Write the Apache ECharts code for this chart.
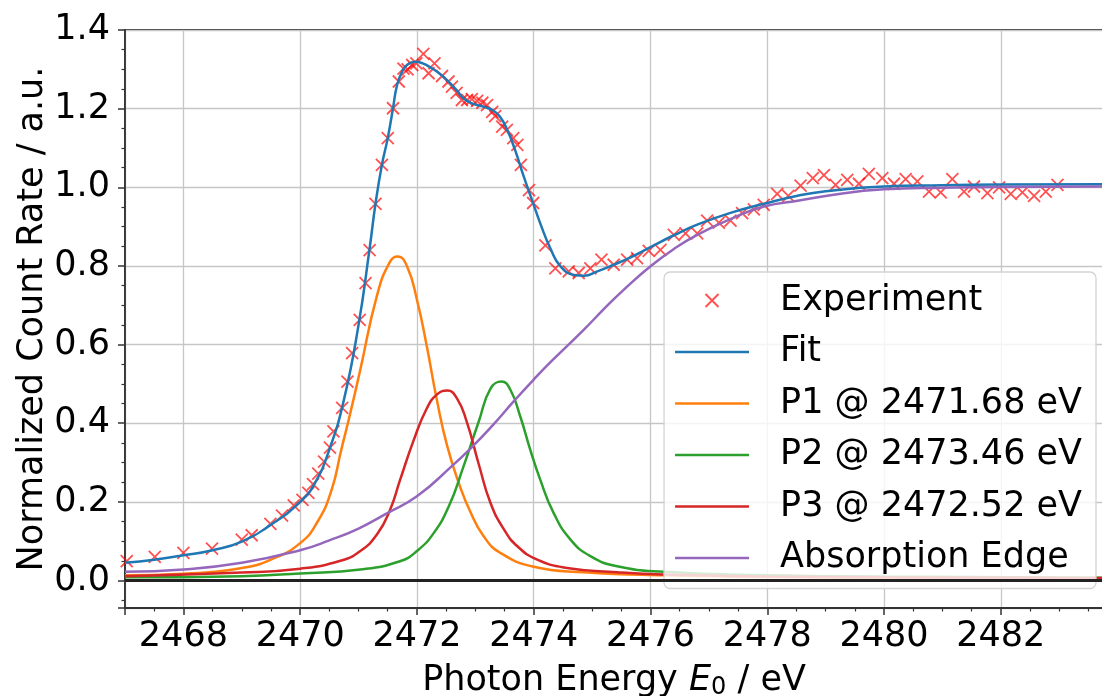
<!DOCTYPE html>
<html>
<head>
<meta charset="utf-8">
<script src="https://cdn.jsdelivr.net/npm/echarts@6/dist/echarts.min.js"></script>
<style>
  html, body { margin: 0; padding: 0; background: #fff; }
  #chart { width: 1102px; height: 696px; }
</style>
</head>
<body>
<div id="chart"></div>
<script>
// Sulfur K-edge XANES: measured count rate and the peak/edge decomposition of the fit.

// Measured points [photon energy eV, normalized count rate]
const experiment = [
  [2467.03, 0.049], [2467.51, 0.060], [2468.00, 0.070], [2468.49, 0.081],
  [2469.00, 0.104], [2469.17, 0.115], [2469.49, 0.144], [2469.69, 0.165],
  [2469.89, 0.191], [2470.04, 0.205], [2470.14, 0.223], [2470.22, 0.245],
  [2470.31, 0.272], [2470.41, 0.302], [2470.51, 0.338], [2470.57, 0.379],
  [2470.72, 0.439], [2470.81, 0.506], [2470.89, 0.578], [2471.02, 0.663],
  [2471.12, 0.756], [2471.19, 0.840], [2471.29, 0.958], [2471.40, 1.057],
  [2471.50, 1.125], [2471.59, 1.201], [2471.69, 1.269], [2471.77, 1.302],
  [2471.84, 1.300], [2471.92, 1.311], [2471.99, 1.315], [2472.11, 1.339],
  [2472.20, 1.290], [2472.30, 1.315], [2472.43, 1.283], [2472.54, 1.269],
  [2472.60, 1.256], [2472.68, 1.240], [2472.77, 1.222], [2472.86, 1.222],
  [2472.94, 1.224], [2473.03, 1.220], [2473.12, 1.215], [2473.20, 1.209],
  [2473.29, 1.192], [2473.34, 1.181], [2473.46, 1.154], [2473.54, 1.146],
  [2473.65, 1.125], [2473.72, 1.108], [2473.78, 1.057], [2473.92, 0.993],
  [2473.99, 0.960], [2474.20, 0.852], [2474.37, 0.794], [2474.60, 0.786],
  [2474.77, 0.782], [2474.97, 0.794], [2475.16, 0.816], [2475.37, 0.803],
  [2475.60, 0.816], [2475.77, 0.820], [2475.97, 0.838], [2476.17, 0.841],
  [2476.40, 0.879], [2476.60, 0.883], [2476.80, 0.883], [2476.97, 0.915],
  [2477.17, 0.910], [2477.37, 0.915], [2477.57, 0.934], [2477.77, 0.944],
  [2477.94, 0.955], [2478.17, 0.983], [2478.36, 0.978], [2478.57, 1.004],
  [2478.78, 1.023], [2478.97, 1.031], [2479.17, 1.006], [2479.37, 1.019],
  [2479.57, 1.009], [2479.74, 1.034], [2479.97, 1.023], [2480.17, 1.009],
  [2480.37, 1.021], [2480.57, 1.015], [2480.77, 0.989], [2480.97, 0.987],
  [2481.17, 1.021], [2481.37, 0.989], [2481.54, 1.002], [2481.77, 0.985],
  [2481.97, 1.000], [2482.17, 0.983], [2482.37, 0.987], [2482.57, 0.978],
  [2482.77, 0.989], [2482.97, 1.006]
];

// Total fit
const fitCurve = [
  [2467.0, 0.045], [2467.5, 0.053], [2468.0, 0.064], [2468.5, 0.077],
  [2469.0, 0.099], [2469.5, 0.142], [2470.0, 0.200], [2470.25, 0.247],
  [2470.5, 0.333], [2470.75, 0.460], [2471.0, 0.650], [2471.19, 0.845],
  [2471.29, 0.958], [2471.4, 1.057], [2471.5, 1.125], [2471.59, 1.201],
  [2471.66, 1.260], [2471.75, 1.295], [2471.83, 1.311], [2471.97, 1.319],
  [2472.1, 1.315], [2472.23, 1.305], [2472.38, 1.290], [2472.51, 1.273],
  [2472.68, 1.247], [2472.80, 1.226], [2472.97, 1.212], [2473.14, 1.205],
  [2473.30, 1.196], [2473.42, 1.180], [2473.54, 1.148], [2473.68, 1.095],
  [2473.83, 1.027], [2473.97, 0.968], [2474.12, 0.905], [2474.29, 0.843],
  [2474.46, 0.799], [2474.69, 0.777], [2474.86, 0.775], [2475.09, 0.786],
  [2475.37, 0.803], [2475.66, 0.822], [2476.0, 0.848], [2476.4, 0.878],
  [2476.8, 0.905], [2477.37, 0.935], [2477.94, 0.958], [2478.5, 0.978],
  [2479.0, 0.990], [2480.0, 1.002], [2481.0, 1.005], [2482.0, 1.007],
  [2483.75, 1.008]
];

// Peak 1 (2471.68 eV)
const peak1 = [
  [2467.0, 0.013], [2468.0, 0.017], [2469.0, 0.032], [2469.5, 0.053],
  [2470.0, 0.095], [2470.3, 0.150], [2470.54, 0.231], [2470.7, 0.330],
  [2470.85, 0.420], [2471.03, 0.536], [2471.32, 0.727], [2471.54, 0.811],
  [2471.67, 0.824], [2471.83, 0.799], [2472.0, 0.714], [2472.17, 0.595],
  [2472.34, 0.460], [2472.52, 0.341], [2472.74, 0.238], [2472.91, 0.176],
  [2473.14, 0.113], [2473.43, 0.070], [2474.0, 0.035], [2474.86, 0.021],
  [2476.23, 0.013], [2478.0, 0.009], [2480.0, 0.007], [2483.75, 0.005]
];

// Peak 2 (2473.46 eV)
const peak2 = [
  [2467.0, 0.008], [2469.0, 0.011], [2470.0, 0.018], [2471.03, 0.028],
  [2471.71, 0.049], [2472.0, 0.075], [2472.29, 0.121], [2472.55, 0.190],
  [2472.77, 0.278], [2473.06, 0.405], [2473.26, 0.488], [2473.45, 0.506],
  [2473.60, 0.485], [2473.77, 0.417], [2473.94, 0.333], [2474.11, 0.257],
  [2474.34, 0.172], [2474.63, 0.104], [2474.97, 0.062], [2475.43, 0.036],
  [2476.23, 0.022], [2478.0, 0.013], [2480.0, 0.010], [2483.75, 0.007]
];

// Peak 3 (2472.52 eV)
const peak3 = [
  [2467.0, 0.011], [2469.0, 0.020], [2470.0, 0.030], [2470.69, 0.050],
  [2471.03, 0.075], [2471.32, 0.118], [2471.54, 0.180], [2471.71, 0.255],
  [2471.94, 0.355], [2472.17, 0.438], [2472.35, 0.474], [2472.52, 0.483],
  [2472.69, 0.462], [2472.85, 0.405], [2473.06, 0.295], [2473.26, 0.197],
  [2473.49, 0.130], [2473.72, 0.087], [2474.06, 0.053], [2474.57, 0.032],
  [2475.43, 0.021], [2476.23, 0.015], [2478.0, 0.010], [2480.0, 0.008],
  [2483.75, 0.006]
];

// Arctangent-like absorption edge
const edgeCurve = [
  [2467.0, 0.022], [2468.0, 0.028], [2469.0, 0.045], [2470.0, 0.077],
  [2470.5, 0.102], [2471.0, 0.132], [2471.5, 0.172], [2472.0, 0.214],
  [2472.57, 0.287], [2473.0, 0.348], [2473.3, 0.395], [2473.66, 0.456],
  [2474.0, 0.511], [2474.3, 0.557], [2474.86, 0.638], [2475.2, 0.690],
  [2475.54, 0.739], [2476.0, 0.799], [2476.4, 0.843], [2476.8, 0.879],
  [2477.37, 0.919], [2477.94, 0.951], [2478.57, 0.967], [2478.92, 0.976],
  [2480.0, 0.995], [2481.0, 0.999], [2482.0, 1.001], [2483.75, 1.002]
];

const seriesNames = ['Experiment', 'Fit', 'P1 @ 2471.68 eV', 'P2 @ 2473.46 eV', 'P3 @ 2472.52 eV', 'Absorption Edge'];
const xRange = [2467, 2483.75];
const yRange = [-0.07, 1.4];

const FONT = 'DejaVu Sans';
const FS = 35;
const AXIS_COLOR = '#333333';
const CROSS = 'path://M0 0L10 10M10 0L0 10';
const BAR = 'path://M0 0H740V27H0Z';

function curve(name, data, color, extra) {
  return Object.assign({
    name: name,
    type: 'line',
    data: data,
    showSymbol: false,
    symbol: 'none',
    smooth: 0.5,
    lineStyle: { color: color, width: 2.5 },
    itemStyle: { color: color },
    silent: true,
    z: 3
  }, extra || {});
}

const chart = echarts.init(document.getElementById('chart'), null, { renderer: 'canvas' });

chart.setOption({
  animation: false,
  backgroundColor: '#ffffff',
  grid: {
    left: 125, top: 30, right: -1, bottom: 88,
    show: true, borderColor: AXIS_COLOR, borderWidth: 1.8,
    backgroundColor: 'transparent',
    outerBoundsMode: 'none'
  },
  xAxis: {
    type: 'value',
    min: xRange[0], max: xRange[1],
    minInterval: 2, maxInterval: 2,
    axisLine: { show: true, onZero: false, lineStyle: { color: AXIS_COLOR, width: 1.8 } },
    axisTick: { show: true, length: 7, lineStyle: { color: AXIS_COLOR, width: 1.5 } },
    minorTick: { show: true, splitNumber: 4, length: 3.5, lineStyle: { color: AXIS_COLOR, width: 1.2 } },
    splitLine: { show: true, lineStyle: { color: '#c6c6c6', width: 1.3 } },
    axisLabel: {
      fontFamily: FONT, fontSize: FS, color: '#000', margin: 11,
      showMinLabel: false, showMaxLabel: false,
      formatter: v => String(Math.round(v))
    },
    name: '{a|Photon Energy }{b|E}{c|0}{a| / eV}',
    nameLocation: 'middle',
    nameGap: 53,
    nameMoveOverlap: false,
    nameTextStyle: {
      fontFamily: FONT, fontSize: FS, color: '#000',
      rich: {
        a: { fontFamily: FONT, fontSize: FS, color: '#000' },
        b: { fontFamily: FONT, fontSize: FS, color: '#000', fontStyle: 'italic' },
        c: { fontFamily: FONT, fontSize: 24, color: '#000', padding: [15, 0, 0, 0] }
      }
    }
  },
  yAxis: {
    type: 'value',
    min: yRange[0], max: yRange[1],
    minInterval: 0.2, maxInterval: 0.2,
    axisLine: { show: true, onZero: false, lineStyle: { color: AXIS_COLOR, width: 1.8 } },
    axisTick: { show: true, length: 7, lineStyle: { color: AXIS_COLOR, width: 1.5 } },
    minorTick: { show: true, splitNumber: 4, length: 3.5, lineStyle: { color: AXIS_COLOR, width: 1.2 } },
    splitLine: { show: true, lineStyle: { color: '#c6c6c6', width: 1.3 } },
    axisLabel: {
      fontFamily: FONT, fontSize: FS, color: '#000', margin: 15,
      showMinLabel: false,
      formatter: v => v.toFixed(1)
    },
    name: 'Normalized Count Rate / a.u.',
    nameLocation: 'middle',
    nameGap: 75,
    nameMoveOverlap: false,
    nameTextStyle: { fontFamily: FONT, fontSize: FS, color: '#000' }
  },
  legend: {
    orient: 'vertical',
    right: 6, top: 272,
    padding: [11, 14, 13, 11],
    itemWidth: 74, itemHeight: 13, itemGap: 16.5,
    backgroundColor: 'rgba(255,255,255,0.8)',
    borderColor: '#d3d3d3', borderWidth: 1.3, borderRadius: 6,
    textStyle: { fontFamily: FONT, fontSize: FS, color: '#000', padding: [0, 0, 0, 26] },
    data: [
      { name: seriesNames[0], icon: CROSS },
      { name: seriesNames[1], icon: BAR },
      { name: seriesNames[2], icon: BAR },
      { name: seriesNames[3], icon: BAR },
      { name: seriesNames[4], icon: BAR },
      { name: seriesNames[5], icon: BAR }
    ],
    selectedMode: false
  },
  series: [
    {
      name: seriesNames[0],
      type: 'scatter',
      data: experiment,
      symbol: CROSS,
      symbolSize: 12,
      itemStyle: { color: 'rgba(255,0,0,0)', borderColor: 'rgba(255,0,0,0.85)', borderWidth: 1.8 },
      silent: true,
      z: 2
    },
    curve(seriesNames[1], fitCurve, '#1f77b4', {
      markLine: {
        silent: true, symbol: 'none',
        label: { show: false },
        lineStyle: { color: '#222222', width: 3, type: 'solid' },
        data: [{ yAxis: 0 }]
      }
    }),
    curve(seriesNames[2], peak1, '#ff7f0e'),
    curve(seriesNames[3], peak2, '#2ca02c'),
    curve(seriesNames[4], peak3, '#d62728'),
    curve(seriesNames[5], edgeCurve, '#9467bd')
  ]
});
</script>
</body>
</html>
